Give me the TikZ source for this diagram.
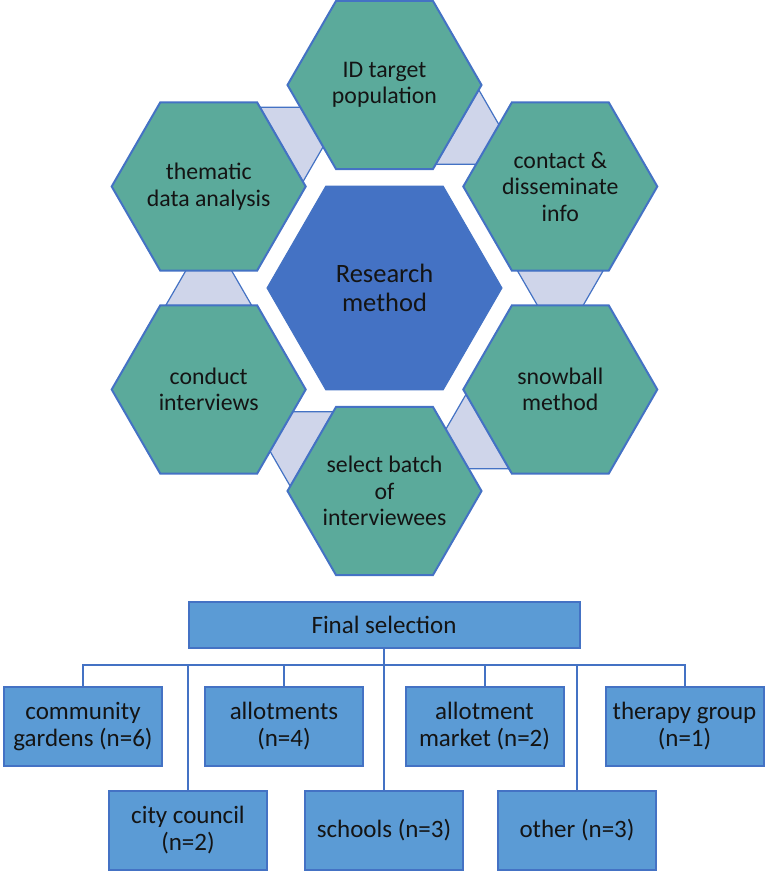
\documentclass[tikz,border=0pt]{standalone}
\usepackage{fontspec}
\setmainfont{Carlito}
\usetikzlibrary{calc,shapes.geometric,backgrounds}
\definecolor{hexteal}{RGB}{91,170,155}
\definecolor{hexline}{RGB}{68,114,196}
\definecolor{hubblue}{RGB}{68,114,196}
\definecolor{trifill}{RGB}{207,213,234}
\definecolor{boxfill}{RGB}{91,155,213}
\definecolor{boxline}{RGB}{68,114,196}
\definecolor{txt}{RGB}{20,20,20}
\begin{document}
\begin{tikzpicture}[x=1pt,y=-1pt,
  hexbox/.style={regular polygon, regular polygon sides=6, minimum size=194, inner sep=-30pt,
    draw=hexline, line width=2pt, fill=hexteal, align=center, text=txt,
    font=\fontsize{23.8}{26.5}\selectfont},
  hubbox/.style={regular polygon, regular polygon sides=6, minimum size=235, inner sep=-30pt,
    draw=hubblue, line width=1pt, fill=hubblue, align=center, text=txt,
    font=\fontsize{26.5}{29}\selectfont},
  tri/.style={fill=trifill, draw=hexline, line width=1.2pt, line join=miter},
  orgbox/.style={rectangle, draw=boxline, fill=boxfill, line width=2pt, minimum width=158,
    minimum height=79, inner sep=0pt, align=center, text=txt,
    font=\fontsize{25}{27}\selectfont},
  conn/.style={draw=boxline, line width=2pt}]
\useasboundingbox (0,0) rectangle (768,874);

\coordinate (C) at (384.5,288);
\node[hubbox] (hub) at (C) {Research\\method};
\node[hexbox] (id)   at ($(C)+(270:203)$) {ID target\\population};
\node[hexbox] (cont) at ($(C)+(330:203)$) {contact \&\\disseminate\\info};
\node[hexbox] (snow) at ($(C)+(30:203)$)  {snowball\\method};
\node[hexbox] (sel)  at ($(C)+(90:203)$)  {select batch\\of\\interviewees};
\node[hexbox] (cond) at ($(C)+(150:203)$) {conduct\\interviews};
\node[hexbox] (them) at ($(C)+(210:203)$) {thematic\\data analysis};

\begin{scope}[on background layer]
\foreach \h/\p in {them/330, id/30, cont/90, snow/150, sel/210, cond/270} {
  \coordinate (m) at ($(\h.center)+(\p:84)$);
  \draw[tri] ($(m)+(\p+90:43)$) -- ($(m)+(\p:74.5)$) -- ($(m)+(\p-90:43)$) -- cycle;
}
\end{scope}

\node[orgbox, minimum width=391, minimum height=46] (fs) at (384,625) {Final selection};
\node[orgbox] (cg) at (83,726.5)  {community\\gardens (n=6)};
\node[orgbox] (al) at (284,726.5) {allotments\\(n=4)};
\node[orgbox] (am) at (484.5,726.5) {allotment\\market (n=2)};
\node[orgbox] (tg) at (684.5,726.5) {therapy group\\(n=1)};
\node[orgbox] (cc) at (188,830.5) {city council\\(n=2)};
\node[orgbox] (sc) at (384,830.5) {schools (n=3)};
\node[orgbox] (ot) at (577,830.5) {other (n=3)};

\coordinate (bar) at (384,665);
\begin{scope}[on background layer]
\draw[conn] (fs.south) -- (sc.north);
\draw[conn] (cg.north) -- (cg.north |- bar) -- (tg.north |- bar) -- (tg.north);
\draw[conn] (al.north) -- (al.north |- bar);
\draw[conn] (am.north) -- (am.north |- bar);
\draw[conn] (cc.north) -- (cc.north |- bar);
\draw[conn] (ot.north) -- (ot.north |- bar);
\end{scope}
\end{tikzpicture}
\end{document}
